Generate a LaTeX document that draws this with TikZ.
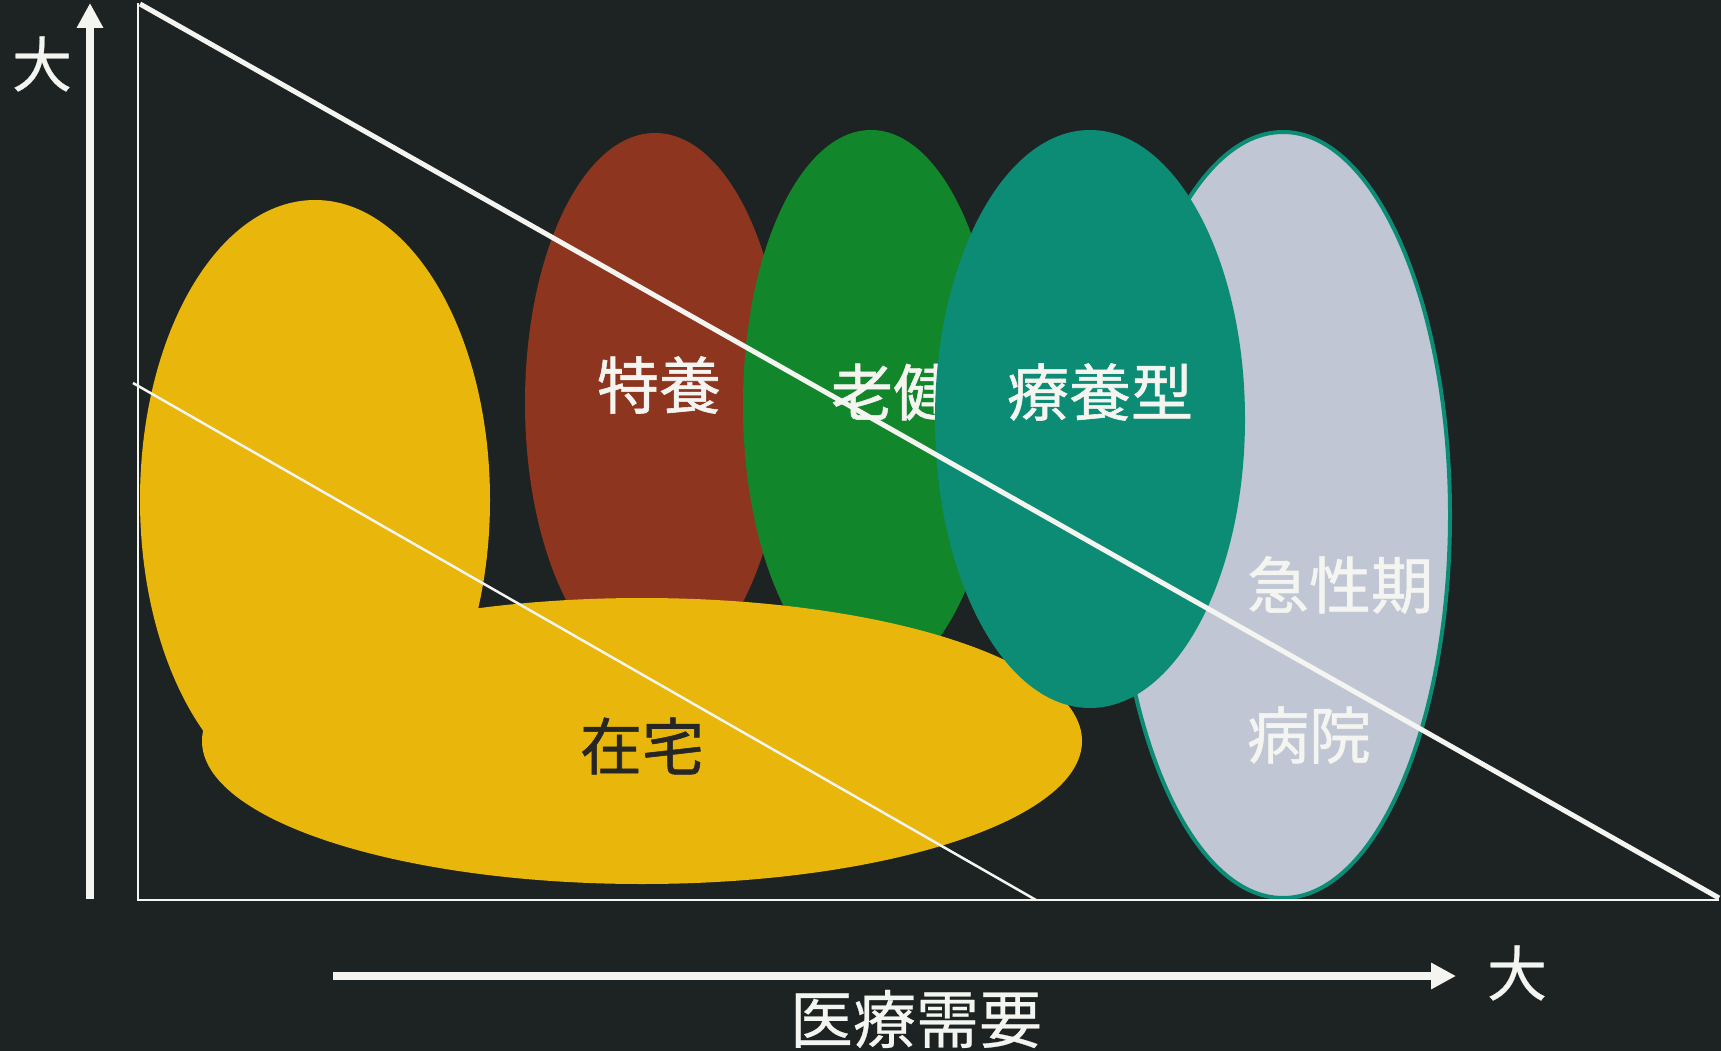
\documentclass[tikz,border=0pt]{standalone}
\usepackage{fontspec}
\setmainfont{Noto Sans CJK JP}
\newfontfamily\medcjk{Noto Sans CJK JP}[RawFeature={embolden=0.9}]
\newfontfamily\axcjk{Noto Sans CJK JP}[RawFeature={embolden=0.4}]
\usetikzlibrary{arrows.meta}
\definecolor{bgc}{RGB}{29,35,34}
\definecolor{yel}{RGB}{233,182,11}
\definecolor{brn}{RGB}{142,53,32}
\definecolor{grn}{RGB}{18,134,42}
\definecolor{tea}{RGB}{12,140,116}
\definecolor{gry}{RGB}{192,198,212}
\definecolor{wht}{RGB}{244,245,240}
\definecolor{dtx}{RGB}{38,38,36}
\tikzset{
  lbl/.style={text=wht, font=\medcjk\fontsize{62}{62}\selectfont, inner sep=0pt},
  axlbl/.style={text=wht, font=\axcjk\fontsize{60}{60}\selectfont, inner sep=0pt},
  axarrow/.style={wht, line width=8pt, -{Triangle[length=25pt,width=25pt]}},
  frameline/.style={wht, line width=2.5pt},
}
\begin{document}
\begin{tikzpicture}[x=1pt,y=-1pt]
\useasboundingbox (0,0) rectangle (1721,1051);
\fill[bgc] (0,0) rectangle (1721,1051);
% ellipses
\fill[gry, draw=tea, line width=4pt] (1283,515) ellipse [x radius=167pt, y radius=383pt];
\fill[brn] (655,403) ellipse [x radius=130pt, y radius=270pt];
\node[lbl] (tokuyo) at (659,385) {特養};
\fill[grn] (871,405) ellipse [x radius=128pt, y radius=275pt];
\node[lbl] (roken) at (893,392) {老健};
\fill[yel] (315,500) ellipse [x radius=175pt, y radius=300pt];
\fill[yel] (642,741) ellipse [x radius=440pt, y radius=143pt];
\fill[tea] (1090,419) ellipse [x radius=155pt, y radius=289pt];
\node[lbl] (ryoyo) at (1100,392) {療養型};
\node[lbl] (kyusei) at (1340,585) {急性期};
\node[lbl] (byoin) at (1309,735) {病院};
\node[lbl, text=dtx] (zaitaku) at (642,746) {在宅};
% frame
\coordinate (tl) at (138,3);
\coordinate (bl) at (138,900);
\coordinate (br) at (1719,900);
\draw[frameline] (tl) -- (bl) -- (br);
\coordinate (d1) at (140,4);
\coordinate (d2) at (1719,898);
\draw[wht, line width=5pt] (d1) -- (d2);
\coordinate (t1) at (133,383);
\coordinate (t2) at (1036,900);
\draw[wht, line width=2.5pt] (t1) -- (t2);
% axes
\coordinate (va) at (90,899);
\coordinate (vb) at (90,3);
\draw[axarrow] (va) -- (vb);
\coordinate (ha) at (333,976);
\coordinate (hb) at (1456,976);
\draw[axarrow] (ha) -- (hb);
\node[axlbl] (ybig) at (42,64) {大};
\node[axlbl] (xbig) at (1517,973) {大};
\node[axlbl, font=\axcjk\fontsize{63}{63}\selectfont] (xname) at (916,1019) {医療需要};
\end{tikzpicture}
\end{document}
